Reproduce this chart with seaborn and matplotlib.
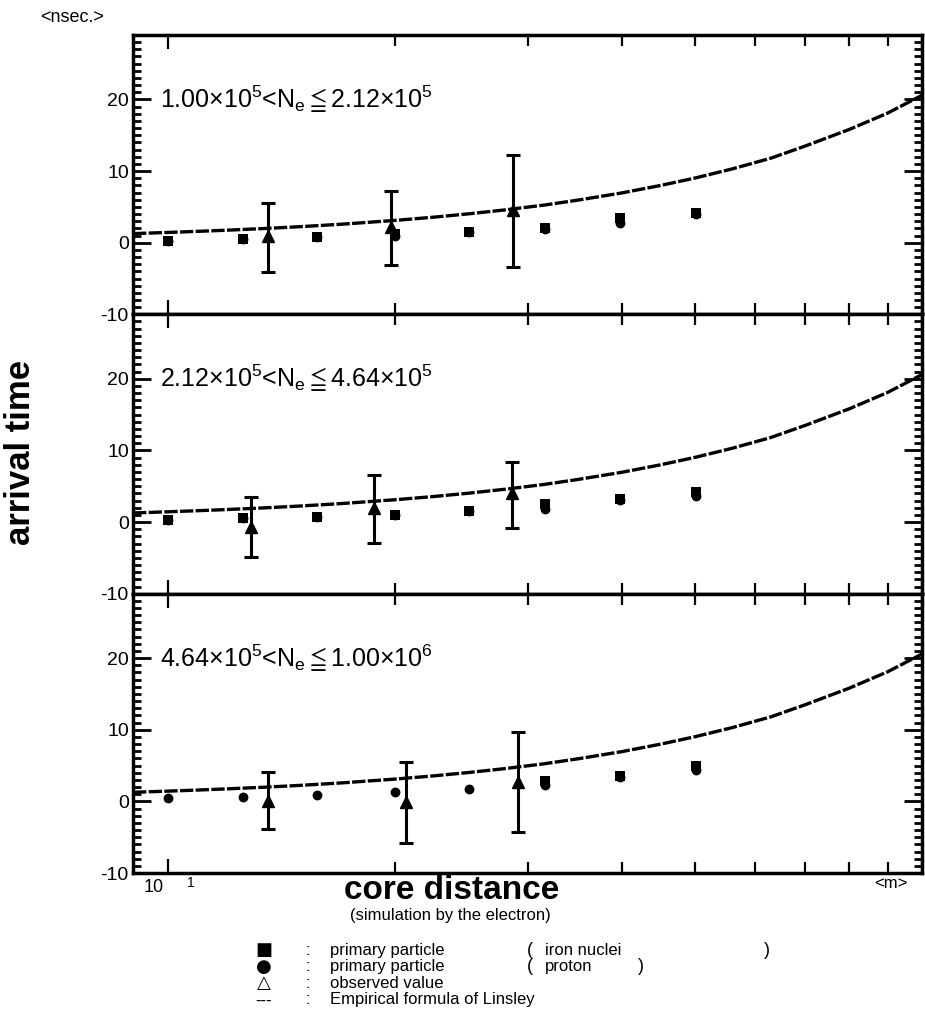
import numpy as np
import pandas as pd
import seaborn as sns
import matplotlib
matplotlib.use("Agg")
import matplotlib.pyplot as plt
import matplotlib.transforms as mtransforms
from matplotlib.ticker import FixedLocator, NullFormatter, MultipleLocator

# ---------------- data ----------------
core_distance = [10.0, 12.6, 15.8, 20.0, 25.1, 31.6, 39.8, 50.1]

iron_1 = [0.3, 0.5, 0.8, 1.2, 1.5, 2.0, 3.4, 4.2]
proton_1 = [0.3, 0.45, 0.8, 1.0, 1.45, 1.95, 2.8, 4.0]
iron_2 = [0.3, 0.5, 0.75, 1.05, 1.6, 2.5, 3.2, 4.2]
proton_2 = [0.3, 0.5, 0.7, 1.0, 1.55, 1.8, 3.1, 3.6]
iron_3 = [np.nan, np.nan, np.nan, np.nan, np.nan, 2.8, 3.5, 4.9]
proton_3 = [0.45, 0.65, 0.9, 1.25, 1.8, 2.3, 3.4, 4.4]

obs_x_1 = [13.6, 19.8, 28.7]
obs_y_1 = [0.9, 2.2, 4.5]
obs_top_1 = [5.6, 7.2, 12.2]
obs_bottom_1 = [-4.1, -3.1, -3.4]

obs_x_2 = [12.9, 18.8, 28.6]
obs_y_2 = [-0.7, 2.0, 4.0]
obs_top_2 = [3.5, 6.6, 8.4]
obs_bottom_2 = [-4.9, -2.9, -0.9]

obs_x_3 = [13.6, 20.7, 29.1]
obs_y_3 = [0.1, -0.1, 2.7]
obs_top_3 = [4.1, 5.5, 9.7]
obs_bottom_3 = [-3.9, -5.8, -4.3]

linsley_r = [9, 10, 11, 12, 13.5, 15, 17, 20, 22.5, 25, 28, 31.6, 35, 40, 45,
             50, 56, 63, 70, 80, 90, 100]
linsley_t = [1.27, 1.43, 1.59, 1.75, 1.99, 2.24, 2.58, 3.11, 3.56, 4.02, 4.58,
             5.26, 5.95, 6.95, 7.99, 9.03, 10.3, 11.8, 13.5, 15.8, 18.1, 20.6]

panel_labels = [
    r"1.00$\times$10$^5$<N$_\mathregular{e}$$\leqq$2.12$\times$10$^5$",
    r"2.12$\times$10$^5$<N$_\mathregular{e}$$\leqq$4.64$\times$10$^5$",
    r"4.64$\times$10$^5$<N$_\mathregular{e}$$\leqq$1.00$\times$10$^6$",
]
y_ticks = [-10, 0, 10, 20]

# ---------------- style ----------------
sns.set_theme(style="ticks")
plt.rcParams["font.family"] = ["Liberation Sans", "DejaVu Sans"]
plt.rcParams["axes.unicode_minus"] = False
plt.rcParams["mathtext.fontset"] = "custom"
plt.rcParams["mathtext.rm"] = "Liberation Sans"
plt.rcParams["mathtext.it"] = "Liberation Sans:italic"
plt.rcParams["mathtext.bf"] = "Liberation Sans:bold"
plt.rcParams["mathtext.fallback"] = "stixsans"
for k in ["text.color", "axes.labelcolor", "xtick.color", "ytick.color", "axes.edgecolor"]:
    plt.rcParams[k] = "black"

fig = plt.figure(figsize=(9.25, 10.35), dpi=100)
axes = fig.subplots(3, 1, sharex=True, gridspec_kw=dict(hspace=0))
fig.subplots_adjust(left=0.1438, right=0.997, top=0.9662, bottom=0.1565, hspace=0)

iron_sets = [iron_1, iron_2, iron_3]
proton_sets = [proton_1, proton_2, proton_3]
obs_sets = [
    (obs_x_1, obs_y_1, obs_top_1, obs_bottom_1),
    (obs_x_2, obs_y_2, obs_top_2, obs_bottom_2),
    (obs_x_3, obs_y_3, obs_top_3, obs_bottom_3),
]

for i, ax in enumerate(axes):
    ax.set_xscale("log")
    ax.set_xlim(9, 100)
    ax.set_ylim(-10, 29)

    sns.lineplot(x=linsley_r, y=linsley_t, ax=ax, color="black", lw=2.4,
                 linestyle=(0, (4, 0.7)), estimator=None, sort=True, legend=False)

    sns.scatterplot(x=core_distance, y=proton_sets[i], ax=ax, marker="o", s=50,
                    color="black", edgecolor="black", linewidth=0, legend=False, zorder=3)
    sns.scatterplot(x=core_distance, y=iron_sets[i], ax=ax, marker="s", s=45,
                    color="black", edgecolor="black", linewidth=0, legend=False, zorder=3)

    ox, oy, ot, ob = obs_sets[i]
    oy_a = np.array(oy); ot_a = np.array(ot); ob_a = np.array(ob)
    ax.errorbar(ox, oy, yerr=[oy_a - ob_a, ot_a - oy_a], fmt="^", color="black",
                ms=8, capsize=5, elinewidth=2.2, capthick=2.2, zorder=4)

    for s in ax.spines.values():
        s.set_linewidth(2.5)
        s.set_color("black")
        s.set_visible(True)

    ax.yaxis.set_major_locator(FixedLocator(y_ticks))
    ax.yaxis.set_minor_locator(MultipleLocator(1))
    ax.tick_params(axis="y", which="major", direction="in", left=True, right=True,
                   length=13, width=2, labelsize=14, pad=3, colors="black")
    ax.tick_params(axis="y", which="minor", direction="in", left=True, right=True,
                   length=6, width=2)
    ax.xaxis.set_major_locator(FixedLocator([10, 100]))
    ax.xaxis.set_minor_locator(FixedLocator([20, 30, 40, 50, 60, 70, 80, 90]))
    ax.xaxis.set_major_formatter(NullFormatter())
    ax.xaxis.set_minor_formatter(NullFormatter())
    ax.tick_params(axis="x", which="major", direction="in", top=True, bottom=True,
                   length=10, width=1.6)
    ax.tick_params(axis="x", which="minor", direction="in", top=True, bottom=True,
                   length=8, width=1.6)
    ax.set_xlabel("")
    ax.set_ylabel("")
    ax.grid(False)

    trans = mtransforms.blended_transform_factory(ax.transAxes, ax.transData)
    ax.text(0.034, 20, panel_labels[i], transform=trans, ha="left", va="center",
            fontsize=18, color="black")

# x tick label "10 1"
bt = mtransforms.blended_transform_factory(axes[2].transData, axes[2].transAxes)
axes[2].text(9.6, -0.022, "10", transform=bt, ha="center", va="top", fontsize=13)
axes[2].text(10.75, -0.010, "1", transform=bt, ha="center", va="top", fontsize=10)

# texts
fig.text(0.043, 0.983, "<nsec.>", ha="left", va="center", fontsize=13)
fig.text(0.022, 0.563, "arrival time", rotation=90, ha="center", va="center",
         fontsize=25, fontweight="bold")
fig.text(0.4886, 0.1400, "core distance", ha="center", va="center",
         fontsize=24, fontweight="bold")
fig.text(0.963, 0.146, "<m>", ha="center", va="center", fontsize=12)
fig.text(0.378, 0.1155, "(simulation by the electron)", ha="left", va="center", fontsize=12)

rows_y = [0.082, 0.066, 0.050, 0.034]
symbols = ["\u25A0", "\u25CF", "\u25B3", "---"]
descs = ["primary particle", "primary particle", "observed value",
         "Empirical formula of Linsley"]
for yy, sym, d in zip(rows_y, symbols, descs):
    fig.text(0.285, yy, sym, ha="center", va="center", fontsize=13 if sym != "---" else 11,
             family=["DejaVu Sans"])
    fig.text(0.333, yy, ":", ha="center", va="center", fontsize=12)
    fig.text(0.357, yy, d, ha="left", va="center", fontsize=12)
fig.text(0.570, rows_y[0], "(", ha="left", va="center", fontsize=13)
fig.text(0.589, rows_y[0], "iron nuclei", ha="left", va="center", fontsize=12)
fig.text(0.826, rows_y[0], ")", ha="left", va="center", fontsize=13)
fig.text(0.570, rows_y[1], "(", ha="left", va="center", fontsize=13)
fig.text(0.589, rows_y[1], "proton", ha="left", va="center", fontsize=12)
fig.text(0.690, rows_y[1], ")", ha="left", va="center", fontsize=13)

fig.savefig("out.png", dpi=100, facecolor="white")
